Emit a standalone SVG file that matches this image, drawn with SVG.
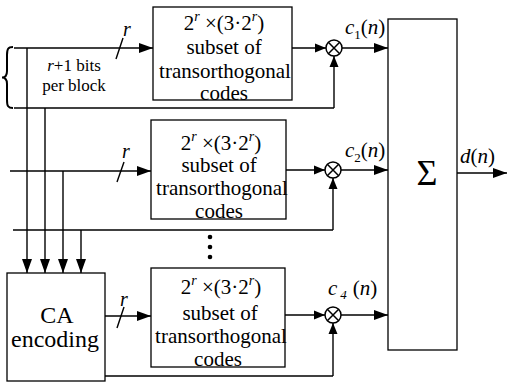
<svg xmlns="http://www.w3.org/2000/svg" width="508" height="384" viewBox="0 0 508 384">
<style>
.box{fill:#fff;stroke:#000;stroke-width:1.3}
.ln{fill:none;stroke:#000;stroke-width:1.4}
.m{fill:none;stroke:#000;stroke-width:1.5}
</style>
<defs>
<marker id="ah" markerUnits="userSpaceOnUse" markerWidth="14" markerHeight="10" refX="14" refY="5" orient="auto">
<path d="M0,0 L14,5 L0,10 z" fill="#000"/>
</marker>
<marker id="as" markerUnits="userSpaceOnUse" markerWidth="11" markerHeight="10" refX="11" refY="5" orient="auto">
<path d="M0,0.5 L11,5 L0,9.5 z" fill="#000"/>
</marker>
</defs>
<rect width="508" height="384" fill="#fff"/>

<g id="connectors">
<path d="M13,47 C8,47 7,49 7,55 L7,71 C7,76 5,77.5 2,77.5 C5,77.5 7,79 7,84 L7,100 C7,106 8,108 13,108" fill="none" stroke="#000" stroke-width="2"/>
<line class="ln" x1="14" y1="48" x2="153" y2="48" marker-end="url(#ah)"/>
<line class="ln" x1="14" y1="108" x2="334" y2="108"/>
<line class="ln" x1="334" y1="108" x2="334" y2="56" marker-end="url(#as)"/>
<line class="ln" x1="10" y1="171" x2="151" y2="171" marker-end="url(#ah)"/>
<line class="ln" x1="13" y1="230" x2="333" y2="230"/>
<line class="ln" x1="333" y1="230" x2="333" y2="178" marker-end="url(#as)"/>
<line class="ln" x1="27" y1="48" x2="27" y2="273" marker-end="url(#ah)"/>
<line class="ln" x1="45" y1="108" x2="45" y2="273" marker-end="url(#ah)"/>
<line class="ln" x1="63" y1="171" x2="63" y2="273" marker-end="url(#ah)"/>
<line class="ln" x1="81" y1="230" x2="81" y2="273" marker-end="url(#ah)"/>
<line class="ln" x1="105" y1="316" x2="151" y2="316" marker-end="url(#ah)"/>
<line class="ln" x1="105" y1="376" x2="333" y2="376"/>
<line class="ln" x1="333" y1="376" x2="333" y2="323" marker-end="url(#as)"/>
<line class="ln" x1="116" y1="59" x2="123" y2="38"/>
<line class="ln" x1="117" y1="182" x2="124" y2="162"/>
<line class="ln" x1="117" y1="328" x2="124" y2="307"/>
<line class="ln" x1="292" y1="48" x2="326" y2="48" marker-end="url(#as)"/>
<line class="ln" x1="286" y1="170" x2="325" y2="170" marker-end="url(#as)"/>
<line class="ln" x1="285" y1="315" x2="325" y2="315" marker-end="url(#as)"/>
<line class="ln" x1="342" y1="48" x2="388" y2="48" marker-end="url(#ah)"/>
<line class="ln" x1="341" y1="170" x2="388" y2="170" marker-end="url(#ah)"/>
<line class="ln" x1="341" y1="315" x2="388" y2="315" marker-end="url(#ah)"/>
<line class="ln" x1="457" y1="173" x2="507" y2="173" marker-end="url(#ah)"/>
</g>

<g id="labels" font-family="Liberation Serif, serif" fill="#000">
<text x="123" y="36" font-style="italic" font-size="20">r</text>
<text x="122" y="158" font-style="italic" font-size="20">r</text>
<text x="120" y="306" font-style="italic" font-size="20">r</text>
<text x="74" y="71" text-anchor="middle" font-size="17"><tspan font-style="italic">r</tspan>+1 bits</text>
<text x="74" y="91" text-anchor="middle" font-size="17">per block</text>
<text x="345" y="34" font-size="21"><tspan font-style="italic">c</tspan><tspan font-size="13" dy="5">1</tspan><tspan dy="-5">(</tspan><tspan font-style="italic">n</tspan>)</text>
<text x="345" y="157" font-size="21"><tspan font-style="italic">c</tspan><tspan font-size="13" dy="5">2</tspan><tspan dy="-5">(</tspan><tspan font-style="italic">n</tspan>)</text>
<text x="328" y="295" font-size="21"><tspan font-style="italic">c</tspan><tspan font-size="13" dx="3" dy="4" font-style="italic">4</tspan><tspan dx="6" dy="-4">(</tspan><tspan font-style="italic">n</tspan>)</text>
<text x="460" y="163" font-size="21"><tspan font-style="italic">d</tspan>(<tspan font-style="italic">n</tspan>)</text>
<circle cx="210" cy="237" r="2.3"/>
<circle cx="210" cy="247" r="2.3"/>
<circle cx="210" cy="257" r="2.3"/>
</g>

<g id="box1" font-family="Liberation Serif, serif" font-size="21" fill="#000">
<rect class="box" x="153" y="7" width="139" height="93"/>
<text x="224" y="30" text-anchor="middle">2<tspan font-size="14" font-style="italic" dy="-9">r</tspan><tspan dy="9"> ×(3·2</tspan><tspan font-size="14" font-style="italic" dy="-9">r</tspan><tspan dy="9">)</tspan></text>
<text x="224" y="54" text-anchor="middle">subset of</text>
<text x="225" y="78" text-anchor="middle">transorthogonal</text>
<text x="224" y="100" text-anchor="middle">codes</text>
</g>

<g id="box2" font-family="Liberation Serif, serif" font-size="21" fill="#000">
<rect class="box" x="151" y="120" width="135" height="99"/>
<text x="221" y="150" text-anchor="middle">2<tspan font-size="14" font-style="italic" dy="-9">r</tspan><tspan dy="9"> ×(3·2</tspan><tspan font-size="14" font-style="italic" dy="-9">r</tspan><tspan dy="9">)</tspan></text>
<text x="219" y="172" text-anchor="middle">subset of</text>
<text x="222" y="195" text-anchor="middle">transorthogonal</text>
<text x="219" y="218" text-anchor="middle">codes</text>
</g>

<g id="box3" font-family="Liberation Serif, serif" font-size="21" fill="#000">
<rect class="box" x="151" y="268" width="134" height="99"/>
<text x="221" y="294" text-anchor="middle">2<tspan font-size="14" font-style="italic" dy="-9">r</tspan><tspan dy="9"> ×(3·2</tspan><tspan font-size="14" font-style="italic" dy="-9">r</tspan><tspan dy="9">)</tspan></text>
<text x="220" y="320" text-anchor="middle">subset of</text>
<text x="221" y="343" text-anchor="middle">transorthogonal</text>
<text x="218" y="366" text-anchor="middle">codes</text>
</g>

<g id="ca" font-family="Liberation Serif, serif" font-size="24" fill="#000">
<rect class="box" x="7" y="273" width="98" height="108"/>
<text x="57" y="323" text-anchor="middle">CA</text>
<text x="55" y="347" text-anchor="middle">encoding</text>
</g>

<g id="mult1">
<circle class="m" cx="334" cy="48" r="8" fill="#fff"/>
<path class="m" d="M328.3,42.3 L339.7,53.7 M339.7,42.3 L328.3,53.7"/>
</g>
<g id="mult2">
<circle class="m" cx="333" cy="170" r="8" fill="#fff"/>
<path class="m" d="M327.3,164.3 L338.7,175.7 M338.7,164.3 L327.3,175.7"/>
</g>
<g id="mult3">
<circle class="m" cx="333" cy="315" r="8" fill="#fff"/>
<path class="m" d="M327.3,309.3 L338.7,320.7 M338.7,309.3 L327.3,320.7"/>
</g>

<g id="sum" font-family="Liberation Serif, serif" fill="#000">
<rect class="box" x="388" y="19" width="69" height="331" stroke-width="1.6"/>
<text x="427" y="185" text-anchor="middle" font-size="36">Σ</text>
</g>
</svg>
